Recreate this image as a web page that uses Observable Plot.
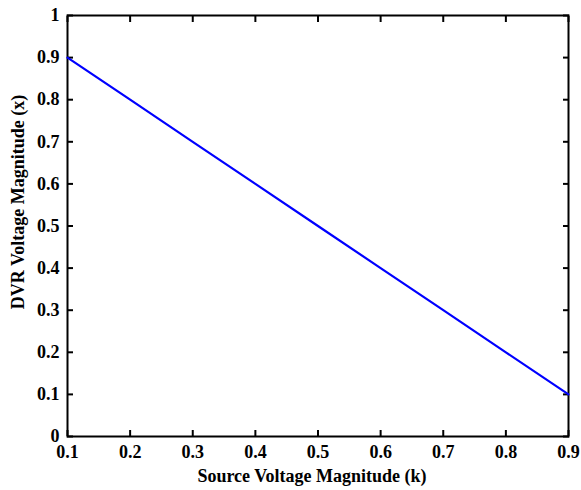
<!DOCTYPE html>
<html><head><meta charset="utf-8">
<script src="https://cdn.jsdelivr.net/npm/d3@7"></script>
<script src="https://cdn.jsdelivr.net/npm/@observablehq/plot@0.6"></script>
<style>body{margin:0;background:#fff}</style>
</head><body><div id="chart"></div>
<script>
const sourceK = [0.1, 0.2, 0.3, 0.4, 0.5, 0.6, 0.7, 0.8, 0.9];
const dvrX = [0.9, 0.8, 0.7, 0.6, 0.5, 0.4, 0.3, 0.2, 0.1];
const xTicks = [0.1, 0.2, 0.3, 0.4, 0.5, 0.6, 0.7, 0.8, 0.9];
const yTicks = [0, 0.1, 0.2, 0.3, 0.4, 0.5, 0.6, 0.7, 0.8, 0.9, 1];
const xLabel = "Source Voltage Magnitude (k)";
const yLabel = "DVR Voltage Magnitude (x)";
const data = sourceK.map((k, i) => ({k, x: dvrX[i]}));
const fmt = d => String(d);
const chart = Plot.plot({
  width: 581, height: 490,
  marginLeft: 67, marginRight: 13, marginTop: 15, marginBottom: 54,
  style: {fontFamily: "'Liberation Serif', 'Times New Roman', serif", fontWeight: "bold", fontSize: "18px", color: "#000", background: "#fff"},
  x: {domain: [0.1, 0.9]},
  y: {domain: [0, 1]},
  marks: [
    Plot.axisX(xTicks, {anchor: "bottom", tickSize: -6, tickPadding: 15, tickFormat: fmt, label: null, strokeWidth: 2, fontSize: 18}),
    Plot.axisX(xTicks, {anchor: "top", tickSize: -6, text: null, label: null, strokeWidth: 2}),
    Plot.axisY(yTicks, {anchor: "left", tickSize: -6, tickPadding: 14, tickFormat: fmt, label: null, strokeWidth: 2, fontSize: 18}),
    Plot.axisY(yTicks, {anchor: "right", tickSize: -6, text: null, label: null, strokeWidth: 2}),
    Plot.text([xLabel], {frameAnchor: "bottom", text: d => d, textAnchor: "middle", dx: -6, dy: 40, lineAnchor: "middle", fontSize: 18, fontWeight: "bold"}),
    Plot.text([yLabel], {frameAnchor: "left", text: d => d, textAnchor: "middle", rotate: -90, dx: -49, dy: -24, lineAnchor: "middle", fontSize: 18, fontWeight: "bold"}),
    Plot.frame({stroke: "#000", strokeWidth: 2}),
    Plot.line(data, {x: "k", y: "x", stroke: "#0000ff", strokeWidth: 2.2})
  ]
});
document.getElementById("chart").append(chart);
</script>
</body></html>
